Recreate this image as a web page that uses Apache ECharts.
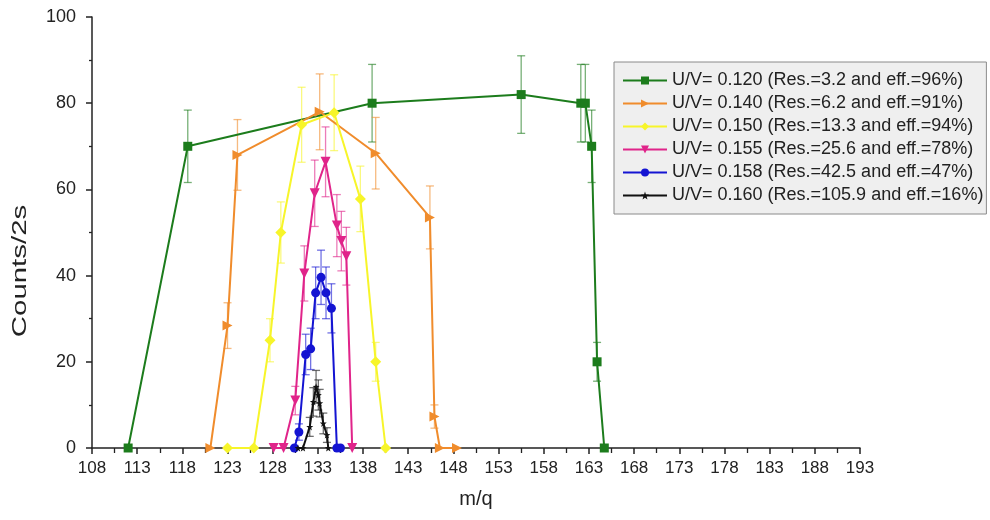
<!DOCTYPE html>
<html>
<head>
<meta charset="utf-8">
<script src="https://cdn.jsdelivr.net/npm/echarts@6/dist/echarts.min.js"></script>
<style>
  html, body { margin: 0; padding: 0; background: #fff; }
  #chart { width: 990px; height: 520px; }
</style>
</head>
<body>
<div id="chart"></div>
<script>
// Transmitted counts vs. m/q for several U/V settings, with counting error bars.
const seriesNames = [
  'U/V= 0.120 (Res.=3.2 and eff.=96%)',
  'U/V= 0.140 (Res.=6.2 and eff.=91%)',
  'U/V= 0.150 (Res.=13.3 and eff.=94%)',
  'U/V= 0.155 (Res.=25.6 and eff.=78%)',
  'U/V= 0.158 (Res.=42.5 and eff.=47%)',
  'U/V= 0.160 (Res.=105.9 and eff.=16%)'
];

// U/V = 0.120
const mq120     = [112.0, 118.6, 139.0, 155.5, 162.1, 162.6, 163.3, 163.9, 164.7];
const counts120 = [0, 70, 80, 82, 80, 80, 70, 20, 0];
const err120    = [0, 8.4, 9, 9, 9, 9, 8.4, 4.5, 0];

// U/V = 0.140
const mq140     = [121.1, 123.0, 124.1, 133.2, 139.4, 145.4, 145.9, 146.5, 148.4];
const counts140 = [0, 28.4, 68, 78, 68.4, 53.5, 7.3, 0, 0];
const err140    = [0, 5.3, 8.2, 8.8, 8.3, 7.3, 2.7, 0, 0];

// U/V = 0.150
const mq150     = [123.0, 125.9, 127.7, 128.9, 131.2, 134.8, 137.7, 139.4, 140.5];
const counts150 = [0, 0, 25, 50, 75, 77.8, 57.8, 20, 0];
const err150    = [0, 0, 5, 7.1, 8.7, 8.8, 7.6, 4.5, 0];

// U/V = 0.155
const mq155     = [128.1, 129.2, 130.5, 131.5, 132.65, 133.85, 135.1, 135.6, 136.15, 136.8];
const counts155 = [0, 0, 11, 40.5, 59.1, 66.4, 51.6, 48, 44.5, 0];
const err155    = [0, 0, 3.3, 6.4, 7.7, 8.1, 7.2, 6.9, 6.7, 0];

// U/V = 0.158
const mq158     = [130.4, 130.9, 131.65, 132.2, 132.75, 133.35, 133.9, 134.5, 135.1, 135.5];
const counts158 = [0, 3.7, 21.7, 23, 36, 39.6, 36, 32.4, 0, 0];
const err158    = [0, 1.9, 4.7, 4.8, 6, 6.3, 6, 5.7, 0, 0];

// U/V = 0.160
const mq160     = [130.8, 131.35, 132.1, 132.5, 132.8, 133.05, 133.2, 133.6, 134.0, 134.15];
const counts160 = [0, 0, 4.9, 10.7, 14.2, 12.3, 10.4, 5.7, 3, 0];
const err160    = [0, 0, 2.2, 3.3, 3.8, 3.5, 3.2, 2.4, 1.7, 0];

const xTickMin = 108, xTickMax = 193, xTickStep = 5;
const yTickMin = 0, yTickMax = 100, yTickStep = 20;

const FONT = '"Liberation Sans", Arial, sans-serif';

const colors  = ['#1c7c1c', '#f08c2c', '#f7f52a', '#e0248a', '#1414d2', '#111111'];
const symbols = ['rect', 'path://M0,0 L10,5 L0,10 Z', 'diamond', 'triangle', 'circle',
  'path://M5,0 L6.2,3.6 L10,3.8 L7,6.1 L8.1,10 L5,7.7 L1.9,10 L3,6.1 L0,3.8 L3.8,3.6 Z'];
const symbolSizes = [9, 10, 11, 10, 9, 7];
const symbolRotate = [0, 0, 0, 180, 0, 0];

const mqSets    = [mq120, mq140, mq150, mq155, mq158, mq160];
const countSets = [counts120, counts140, counts150, counts155, counts158, counts160];
const errSets   = [err120, err140, err150, err155, err158, err160];

function errorBarSeries(i) {
  const data = [];
  mqSets[i].forEach((x, k) => {
    const e = errSets[i][k];
    if (e > 0) data.push([x, countSets[i][k] - e, countSets[i][k] + e]);
  });
  return {
    type: 'custom',
    name: 'err' + i,
    z: 1,
    silent: true,
    data: data,
    encode: { x: 0, y: [1, 2] },
    renderItem: function (params, api) {
      const x = api.value(0);
      const top = api.coord([x, api.value(2)]);
      const bot = api.coord([x, api.value(1)]);
      const w = 4;
      const style = { stroke: colors[i], lineWidth: 1.3, opacity: 0.6 };
      return {
        type: 'group',
        children: [
          { type: 'line', shape: { x1: top[0], y1: top[1], x2: bot[0], y2: bot[1] }, style: style },
          { type: 'line', shape: { x1: top[0] - w, y1: top[1], x2: top[0] + w, y2: top[1] }, style: style },
          { type: 'line', shape: { x1: bot[0] - w, y1: bot[1], x2: bot[0] + w, y2: bot[1] }, style: style }
        ]
      };
    }
  };
}

const series = [];
for (let i = 0; i < seriesNames.length; i++) series.push(errorBarSeries(i));
for (let i = 0; i < seriesNames.length; i++) {
  series.push({
    type: 'line',
    name: seriesNames[i],
    z: 3 + i,
    data: mqSets[i].map((x, k) => [x, countSets[i][k]]),
    symbol: symbols[i],
    symbolSize: symbolSizes[i],
    symbolRotate: symbolRotate[i],
    showAllSymbol: true,
    lineStyle: { color: colors[i], width: 2 },
    itemStyle: { color: colors[i] }
  });
}

const chart = echarts.init(document.getElementById('chart'), null, { renderer: 'canvas' });
chart.setOption({
  animation: false,
  backgroundColor: '#ffffff',
  textStyle: { fontFamily: FONT },
  grid: { left: 92, right: 130, top: 17, bottom: 72, containLabel: false },
  legend: {
    data: seriesNames,
    orient: 'vertical',
    left: 614,
    top: 62,
    backgroundColor: '#efefef',
    borderColor: '#8a8a8a',
    borderWidth: 1,
    borderRadius: 0,
    padding: [7, 3, 7, 8],
    itemWidth: 44,
    itemHeight: 10,
    itemGap: 0,
    textStyle: { fontSize: 18, lineHeight: 23, color: '#222', fontFamily: FONT }
  },
  xAxis: {
    type: 'value',
    min: xTickMin,
    max: xTickMax,
    interval: xTickStep,
    name: 'm/q',
    nameLocation: 'middle',
    nameGap: 41,
    nameTextStyle: { fontSize: 20, color: '#222', fontFamily: FONT },
    axisLine: { show: true, onZero: false, lineStyle: { color: '#222', width: 1.5 } },
    axisTick: { show: true, inside: false, length: 6, lineStyle: { color: '#222', width: 1.5 } },
    minorTick: { show: true, splitNumber: 2, length: 5, lineStyle: { color: '#222', width: 1.3 } },
    axisLabel: { fontSize: 17, color: '#222', margin: 12, fontFamily: FONT },
    splitLine: { show: false }
  },
  yAxis: {
    type: 'value',
    min: yTickMin,
    max: yTickMax,
    interval: yTickStep,
    axisLine: { show: true, lineStyle: { color: '#222', width: 1.5 } },
    axisTick: { show: true, inside: false, length: 6, lineStyle: { color: '#222', width: 1.5 } },
    minorTick: { show: true, splitNumber: 2, length: 3, lineStyle: { color: '#222', width: 1.3 } },
    axisLabel: { fontSize: 18, color: '#222', margin: 16, fontFamily: FONT },
    splitLine: { show: false }
  },
  graphic: [{
    type: 'text',
    x: 20,
    y: 271,
    rotation: Math.PI / 2,
    scaleX: 1.4,
    style: {
      text: 'Counts/2s',
      fontSize: 21,
      fill: '#222',
      fontFamily: FONT,
      textAlign: 'center',
      textVerticalAlign: 'middle'
    }
  }],
  series: series
});
</script>
</body>
</html>
